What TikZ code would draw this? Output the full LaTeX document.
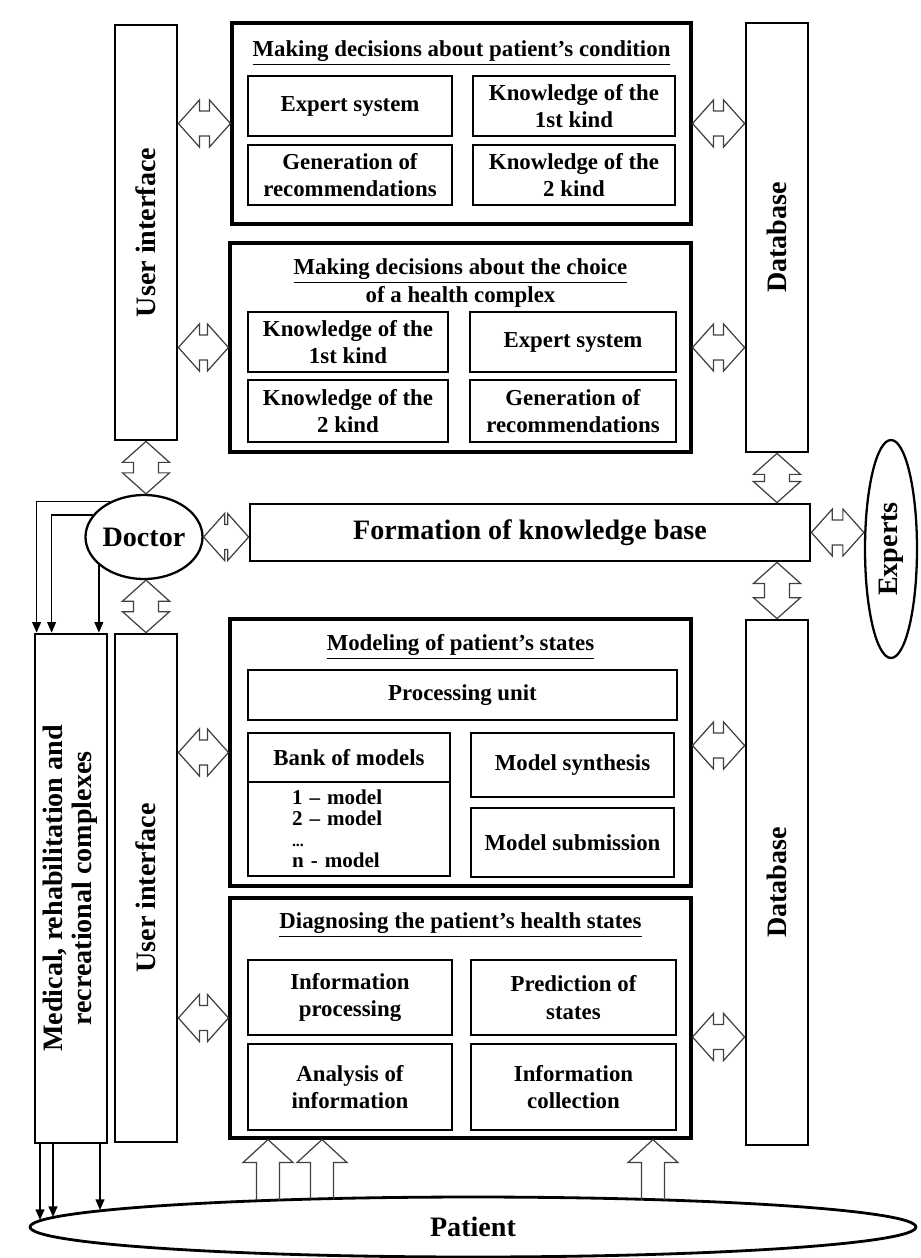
\documentclass[tikz,border=0pt]{standalone}
\usepackage{fontspec}
\setmainfont{Liberation Serif}
\usepackage{graphicx}
\usetikzlibrary{shapes.geometric, arrows.meta, calc}

\begin{document}
\begin{tikzpicture}[x=0.02cm, y=-0.02cm,
    font=\fontsize{13}{15.5}\selectfont\bfseries,
    outerbox/.style={draw, line width=1.8pt, inner sep=0pt},
    innerbox/.style={draw, line width=1.1pt, align=center, inner sep=1pt},
    sidebar/.style={draw, line width=1.6pt, inner sep=0pt, font=\fontsize{16}{17}\selectfont\bfseries},
    actor/.style={draw, ellipse, line width=1.3pt, inner sep=0pt, font=\fontsize{16}{17}\selectfont\bfseries},
    boxtitle/.style={align=center, inner sep=0pt},
    flow/.style={line width=0.8pt, -{Triangle[length=6pt, width=5pt]}},
    dblarrow/.style={draw=black!75, line width=0.7pt, to path={
      -- ($(\tikztostart)!0.42cm!(\tikztotarget)!0.47cm!90:(\tikztotarget)$)
      -- ($(\tikztostart)!0.42cm!(\tikztotarget)!0.25cm!90:(\tikztotarget)$)
      -- ($(\tikztotarget)!0.42cm!(\tikztostart)!0.25cm!-90:(\tikztostart)$)
      -- ($(\tikztotarget)!0.42cm!(\tikztostart)!0.47cm!-90:(\tikztostart)$)
      -- (\tikztotarget)
      -- ($(\tikztotarget)!0.42cm!(\tikztostart)!0.47cm!90:(\tikztostart)$)
      -- ($(\tikztotarget)!0.42cm!(\tikztostart)!0.25cm!90:(\tikztostart)$)
      -- ($(\tikztostart)!0.42cm!(\tikztotarget)!0.25cm!-90:(\tikztotarget)$)
      -- ($(\tikztostart)!0.42cm!(\tikztotarget)!0.47cm!-90:(\tikztotarget)$)
      -- cycle}},
    inarrow/.style={draw=black!75, line width=0.7pt, to path={
      ($(\tikztostart)!0.23cm!90:(\tikztotarget)$)
      -- ($(\tikztotarget)!0.46cm!(\tikztostart)!0.23cm!-90:(\tikztostart)$)
      -- ($(\tikztotarget)!0.46cm!(\tikztostart)!0.5cm!-90:(\tikztostart)$)
      -- (\tikztotarget)
      -- ($(\tikztotarget)!0.46cm!(\tikztostart)!0.5cm!90:(\tikztostart)$)
      -- ($(\tikztotarget)!0.46cm!(\tikztostart)!0.23cm!90:(\tikztostart)$)
      -- ($(\tikztostart)!0.23cm!-90:(\tikztotarget)$)}}
  ]
  \useasboundingbox (0,0) rectangle (920,1258);

  % Upper side bars
  \node[sidebar, minimum width=1.24cm, minimum height=8.3cm] (ui1) at (146,232.5) {\rotatebox{90}{User interface}};
  \node[sidebar, minimum width=1.24cm, minimum height=8.58cm] (db1) at (777,237.5) {\rotatebox{90}{Database}};

  % Decisions about patient's condition
  \node[outerbox, minimum width=9.18cm, minimum height=4.02cm] (dec1) at (461.5,123.5) {};
  \node[boxtitle] (dec1t) at (461.5,53) {\underline{Making decisions about patient's condition}};
  \node[innerbox, minimum width=4.08cm, minimum height=1.2cm] (es1) at (350,106) {Expert system};
  \node[innerbox, minimum width=4.04cm, minimum height=1.2cm] (kn1a) at (574,106) {Knowledge of the\\1st kind};
  \node[innerbox, minimum width=4.08cm, minimum height=1.2cm] (gr1) at (350,175) {Generation of\\recommendations};
  \node[innerbox, minimum width=4.04cm, minimum height=1.2cm] (kn1b) at (574,175) {Knowledge of the\\2 kind};

  % Decisions about the health complex
  \node[outerbox, minimum width=9.22cm, minimum height=4.18cm] (dec2) at (460.5,347.5) {};
  \node[boxtitle] (dec2t) at (460.5,283) {\underline{Making decisions about the choice}\\of a health complex};
  \node[innerbox, minimum width=4cm, minimum height=1.2cm] (kn2a) at (348,342) {Knowledge of the\\1st kind};
  \node[innerbox, minimum width=4.12cm, minimum height=1.2cm] (es2) at (573,342) {Expert system};
  \node[innerbox, minimum width=4cm, minimum height=1.24cm] (kn2b) at (348,411) {Knowledge of the\\2 kind};
  \node[innerbox, minimum width=4.12cm, minimum height=1.24cm] (gr2) at (573,411) {Generation of\\recommendations};

  % Middle row
  \node[actor, minimum width=2.24cm, minimum height=1.68cm] (doc) at (144,537) {Doctor};
  \node[sidebar, minimum width=11.2cm, minimum height=1.14cm] (kb) at (530,532.5) {Formation of knowledge base};
  \node[actor, minimum width=1.04cm, minimum height=4.36cm] (exp) at (891,549) {\rotatebox{90}{Experts}};

  % Lower side bars
  \node[sidebar, minimum width=1.44cm, minimum height=10.18cm] (med) at (71,888.5) {\rotatebox{90}{\begin{tabular}{@{}c@{}}Medical, rehabilitation and\\recreational complexes\end{tabular}}};
  \node[sidebar, minimum width=1.24cm, minimum height=10.16cm] (ui2) at (146,888) {\rotatebox{90}{User interface}};
  \node[sidebar, minimum width=1.24cm, minimum height=10.5cm] (db2) at (777,882.5) {\rotatebox{90}{Database}};

  % Modeling of states
  \node[outerbox, minimum width=9.22cm, minimum height=5.34cm] (mod) at (460.5,752.5) {};
  \node[boxtitle] (modt) at (460.5,647) {\underline{Modeling of patient's states}};
  \node[innerbox, minimum width=8.58cm, minimum height=1cm] (pu) at (462.5,695) {Processing unit};
  \node[innerbox, minimum width=4.04cm, minimum height=0.98cm] (bankhd) at (349,757.5) {Bank of models};
  \node[innerbox, minimum width=4.04cm, minimum height=1.88cm, text width=2.28cm, align=left,
        font=\fontsize{12}{12}\selectfont\bfseries] (banklst) at (349,829)
        {1 -- model\\2 -- model\\{\fontsize{9}{9}\selectfont ...}\\n - model};
  \node[innerbox, minimum width=4.06cm, minimum height=1.28cm] (syn) at (572.5,765) {Model synthesis};
  \node[innerbox, minimum width=4.06cm, minimum height=1.38cm] (sub) at (572.5,842.5) {Model submission};

  % Diagnosing
  \node[outerbox, minimum width=9.22cm, minimum height=4.8cm] (diag) at (460.5,1018) {};
  \node[boxtitle] (diagt) at (460.5,925) {\underline{Diagnosing the patient's health states}};
  \node[innerbox, minimum width=4.08cm, minimum height=1.5cm] (ip) at (350,997.5) {Information\\processing};
  \node[innerbox, minimum width=4.1cm, minimum height=1.5cm] (ps) at (573.5,997.5) {Prediction of\\states};
  \node[innerbox, minimum width=4.08cm, minimum height=1.72cm] (ai) at (350,1087) {Analysis of\\information};
  \node[innerbox, minimum width=4.1cm, minimum height=1.72cm] (ic) at (573.5,1087) {Information\\collection};

  % Patient
  \node[actor, line width=1.6pt, minimum width=17.72cm, minimum height=1.2cm] (pat) at (473,1227) {Patient};

  % Block arrows
  \draw[dblarrow] (ui1.east |- dec1.west) to (dec1.west);
  \draw[dblarrow] (dec1.east) to (dec1.east -| db1.west);
  \draw[dblarrow] (ui1.east |- dec2.west) to (dec2.west);
  \draw[dblarrow] (dec2.east) to (dec2.east -| db1.west);
  \draw[dblarrow] (ui1.south) to (ui1.south |- doc.north);
  \draw[dblarrow] (doc.east) to (doc.east -| kb.west);
  \draw[dblarrow] (kb.east) to (kb.east -| exp.west);
  \draw[dblarrow] (db1.south) to (db1.south |- kb.north);
  \draw[dblarrow] (db2.north |- kb.south) to (db2.north);
  \draw[dblarrow] (doc.south -| ui2.north) to (ui2.north);
  \draw[dblarrow] (ui2.east |- mod.west) to (mod.west);
  \coordinate (modR) at ($(mod.east)+(0,-7)$);
  \draw[dblarrow] (modR) to (modR -| db2.west);
  \draw[dblarrow] (ui2.east |- diag.west) to (diag.west);
  \coordinate (diagR) at ($(diag.east)+(0,19)$);
  \draw[dblarrow] (diagR) to (diagR -| db2.west);

  % Patient data into diagnosing
  \coordinate (pa1) at (268,1200);
  \coordinate (pa2) at (322,1199);
  \coordinate (pa3) at (653,1200);
  \draw[inarrow] (pa1) to (pa1 |- diag.south);
  \draw[inarrow] (pa2) to (pa2 |- diag.south);
  \draw[inarrow] (pa3) to (pa3 |- diag.south);

  % Doctor to complexes, complexes to patient
  \draw[flow] (doc.134) -| ($(med.north west)+(3,0)$);
  \draw[flow] (doc.157) -| ($(med.north west)+(18,0)$);
  \draw[flow] (doc.212) -- (doc.212 |- med.north);
  \coordinate (pm1) at (40,1220);
  \coordinate (pm2) at (53,1217);
  \coordinate (pm3) at (100,1210);
  \draw[flow] (pm1 |- med.south) -- (pm1);
  \draw[flow] (pm2 |- med.south) -- (pm2);
  \draw[flow] (pm3 |- med.south) -- (pm3);
\end{tikzpicture}
\end{document}
